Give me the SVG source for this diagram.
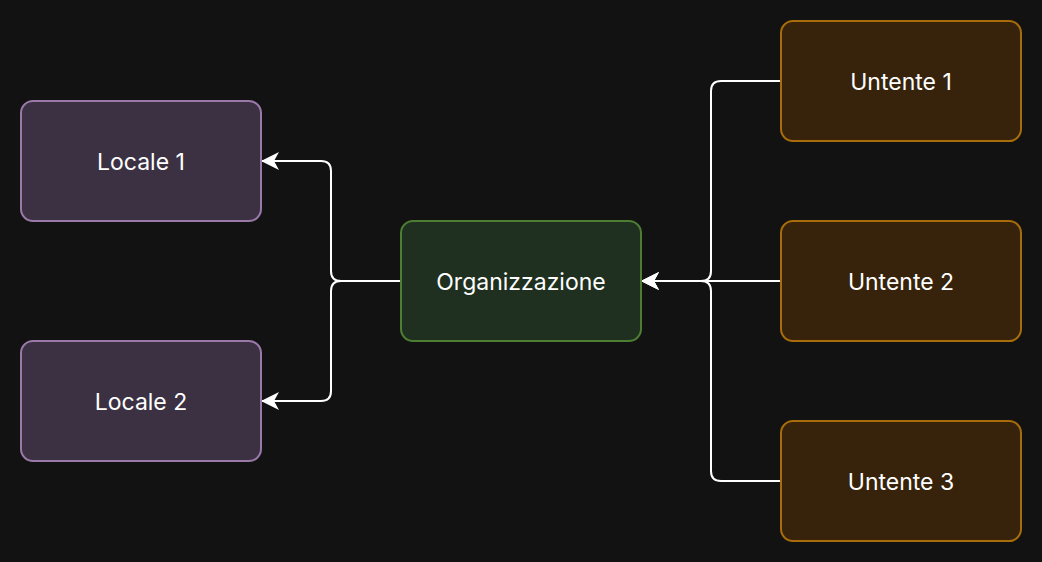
<svg xmlns="http://www.w3.org/2000/svg" width="1042" height="562" viewBox="0 0 1042 562">
<style>
.bg{fill:#121212}
.loc{fill:#3c3142;stroke:#9a78a8;stroke-width:2}
.org{fill:#203020;stroke:#4e7d34;stroke-width:2}
.ute{fill:#37230c;stroke:#a86c0a;stroke-width:2}
.lbl{font-family:Inter,"Liberation Sans",Arial,sans-serif;font-size:23px;fill:#ffffff;text-anchor:middle;dominant-baseline:central}
.edge{fill:none;stroke:#ffffff;stroke-width:2}
</style>
<defs>
<marker id="arr" viewBox="0 0 18 18" refX="17" refY="9" markerWidth="18" markerHeight="18" markerUnits="userSpaceOnUse" orient="auto">
<path d="M18,9 L0,0 L5,9 L0,18 Z" fill="#ffffff"/>
</marker>
</defs>
<rect class="bg" x="0" y="0" width="1042" height="562"/>
<g id="connectors">
<path class="edge" d="M401,281 H341 Q331,281 331,271 V171 Q331,161 321,161 H262" marker-end="url(#arr)"/>
<path class="edge" d="M401,281 H341 Q331,281 331,291 V391 Q331,401 321,401 H262" marker-end="url(#arr)"/>
<path class="edge" d="M781,81 H721 Q711,81 711,91 V271 Q711,281 701,281 H642" marker-end="url(#arr)"/>
<path class="edge" d="M781,281 H642" marker-end="url(#arr)"/>
<path class="edge" d="M781,481 H721 Q711,481 711,471 V291 Q711,281 701,281 H642" marker-end="url(#arr)"/>
</g>
<g id="locale1"><rect class="loc" x="21" y="101" width="240" height="120" rx="12"/><text class="lbl" x="141" y="162">Locale 1</text></g>
<g id="locale2"><rect class="loc" x="21" y="341" width="240" height="120" rx="12"/><text class="lbl" x="141" y="402">Locale 2</text></g>
<g id="organizzazione"><rect class="org" x="401" y="221" width="240" height="120" rx="12"/><text class="lbl" x="521" y="282">Organizzazione</text></g>
<g id="untente1"><rect class="ute" x="781" y="21" width="240" height="120" rx="12"/><text class="lbl" x="901" y="82">Untente 1</text></g>
<g id="untente2"><rect class="ute" x="781" y="221" width="240" height="120" rx="12"/><text class="lbl" x="901" y="282">Untente 2</text></g>
<g id="untente3"><rect class="ute" x="781" y="421" width="240" height="120" rx="12"/><text class="lbl" x="901" y="482">Untente 3</text></g>
</svg>
